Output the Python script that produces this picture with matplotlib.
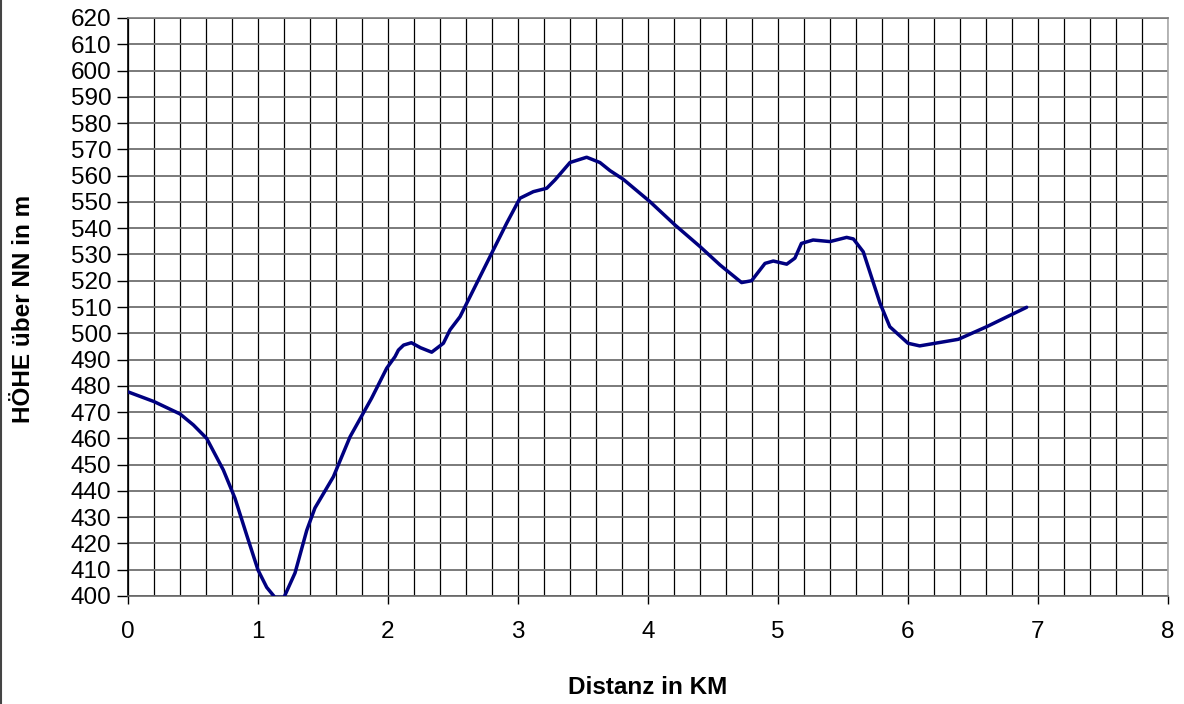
import matplotlib
matplotlib.use("Agg")
import matplotlib.pyplot as plt
from matplotlib.ticker import MultipleLocator
from matplotlib.lines import Line2D

# elevation profile
distanz = [0, 0.2, 0.4, 0.503, 0.605, 0.733, 0.823, 0.913, 1.0, 1.067, 1.13, 1.2,
           1.285, 1.375, 1.438, 1.58, 1.708, 1.874, 1.99, 2.054, 2.08, 2.12, 2.18,
           2.25, 2.336, 2.426, 2.477, 2.554, 2.682, 2.797, 2.913, 3.015, 3.118,
           3.221, 3.285, 3.4, 3.528, 3.63, 3.708, 3.81, 4.015, 4.208, 4.4, 4.554,
           4.72, 4.797, 4.9, 4.964, 5.067, 5.13, 5.18, 5.27, 5.4, 5.528, 5.58,
           5.656, 5.785, 5.86, 6.0, 6.09, 6.387, 6.605, 6.913]
hoehe = [477.7, 474.0, 469.3, 465.1, 460.0, 448.0, 437.2, 423.2, 409.9, 403.3, 399.5, 399.5,
         408.8, 425.0, 433.5, 445.4, 460.6, 475.3, 486.7, 491.1, 493.6, 495.5, 496.4,
         494.5, 492.8, 496.2, 501.3, 506.3, 519.0, 530.4, 541.9, 551.4, 553.9,
         555.2, 558.4, 565.0, 567.0, 565.0, 561.9, 558.6, 550.1, 541.2, 533.0, 526.0,
         519.3, 520.0, 526.6, 527.5, 526.3, 528.6, 534.2, 535.5, 534.9, 536.5, 535.9,
         531.0, 511.4, 502.5, 496.2, 495.2, 497.7, 502.5, 509.9]

x_ticks = list(range(0, 9))
y_ticks = list(range(400, 621, 10))

plt.rcParams['font.family'] = ['Liberation Sans', 'DejaVu Sans']

fig = plt.figure(figsize=(11.84, 7.04), dpi=100)
ax = fig.add_axes([128 / 1184, 1 - 596 / 704, 1040 / 1184, 578 / 704])

ax.plot(distanz, hoehe, color='#000080', lw=2.5, solid_joinstyle='round',
        solid_capstyle='round', zorder=3)

ax.set_xlim(0, 8)
ax.set_ylim(400, 620)
ax.set_xticks(x_ticks)
ax.set_yticks(y_ticks)
ax.xaxis.set_minor_locator(MultipleLocator(0.2))

# grid: black verticals every 0.2 km, grey horizontals every 10 m
ax.grid(which='both', axis='x', color='black', lw=0.9)
ax.grid(which='major', axis='y', color='#7a7a7a', lw=1.4)
ax.set_axisbelow(True)

ax.tick_params(axis='x', which='minor', length=0)
ax.tick_params(axis='x', which='major', length=6, width=1, pad=12, labelsize=17.5)
ax.tick_params(axis='y', length=8, width=1, pad=4, labelsize=17.5)

ax.spines['left'].set_color('black')
ax.spines['bottom'].set_color('#666666')
ax.spines['top'].set_color('#7a7a7a')
ax.spines['right'].set_color('#aaaaaa')
for s in ax.spines.values():
    s.set_linewidth(1.2)

fig.text(648 / 1184, 1 - 688 / 704, 'Distanz in KM', ha='center', va='center',
         fontsize=17.5, fontweight='bold')
fig.text(24 / 1184, 1 - 309 / 704, 'HÖHE über NN in m', ha='center', va='center',
         rotation=90, fontsize=17.5, fontweight='bold')

# frame edge visible on the left side
fig.add_artist(Line2D([0.0012, 0.0012], [0, 1], color='#444444', lw=1.5))

fig.savefig('out.png', dpi=100)
